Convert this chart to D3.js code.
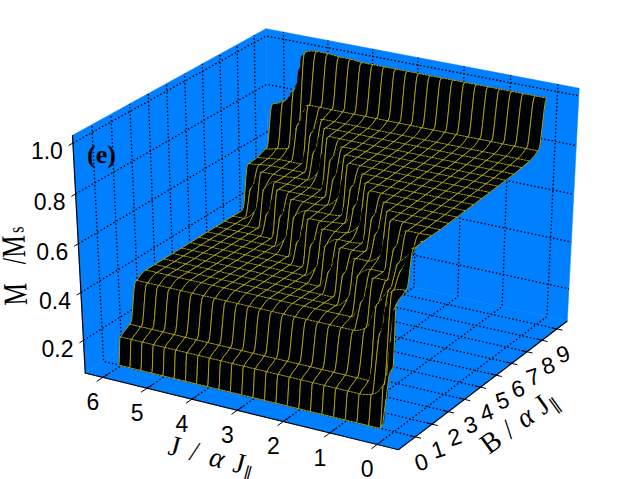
<!DOCTYPE html>
<html><head><meta charset="utf-8">
<style>html,body{margin:0;padding:0;background:#fff}svg{display:block}text{fill:#000}</style>
<script src="https://d3js.org/d3.v7.min.js"></script></head><body>
<svg id="c" width="641" height="479"></svg>
<script>
const jValues=[6,5.75,5.5,5.25,5,4.75,4.5,4.25,4,3.75,3.5,3.25,3,2.75,2.5,2.25,2,1.75,1.5,1.25,1,.75,.5,.25,0];
const bValues=[-.15,.05,.55,1.05,1.55,2.05,2.55,3.05,3.55,4.05,4.55,5.05,5.55,6.05,6.55,7.05,7.55,8.05,8.55,9.05];
const surfaceM=[
[.07,.18,.21,.37,.39,.39,.39,.39,.39,.39,.39,.39,.39,.39,.39,.39,.57,.575,.59,.76],
[.07,.18,.21,.37,.39,.39,.39,.39,.39,.39,.39,.39,.39,.39,.39,.50,.575,.58,.60,.78],
[.07,.18,.21,.37,.39,.39,.39,.39,.39,.39,.39,.39,.39,.39,.43,.575,.58,.585,.61,.84],
[.07,.18,.21,.37,.39,.39,.39,.39,.39,.39,.39,.39,.39,.39,.54,.575,.58,.585,.72,1],
[.07,.18,.21,.37,.39,.39,.39,.39,.39,.39,.39,.39,.39,.466,.575,.575,.58,.585,.81,1.01],
[.07,.18,.21,.37,.39,.39,.39,.39,.39,.39,.39,.39,.39,.575,.575,.58,.58,.727,.81,1.01],
[.07,.18,.21,.37,.39,.39,.39,.39,.39,.39,.39,.39,.50,.575,.575,.58,.68,.79,.81,1.005],
[.07,.18,.21,.37,.39,.39,.39,.39,.39,.39,.39,.43,.575,.575,.58,.62,.785,.79,.81,1.005],
[.07,.18,.21,.37,.39,.39,.39,.39,.39,.39,.39,.54,.575,.575,.58,.78,.785,.79,.81,1],
[.07,.18,.21,.37,.39,.39,.39,.39,.39,.39,.466,.57,.575,.58,.72,.78,.785,.79,.81,1],
[.07,.18,.21,.37,.39,.39,.39,.39,.39,.39,.57,.575,.58,.675,.777,.78,.785,.79,.81,1],
[.07,.18,.21,.37,.39,.39,.39,.39,.39,.50,.57,.575,.62,.775,.777,.78,.785,.79,.81,1],
[.07,.18,.21,.37,.39,.39,.39,.39,.43,.57,.575,.58,.772,.775,.777,.78,.785,.79,.81,1],
[.07,.18,.21,.37,.39,.39,.39,.39,.54,.57,.58,.71,.772,.775,.777,.78,.785,.79,.81,1],
[.07,.18,.21,.37,.39,.39,.39,.466,.57,.575,.665,.77,.772,.775,.777,.78,.785,.79,.81,1],
[.07,.18,.21,.37,.39,.39,.39,.57,.57,.61,.767,.77,.772,.775,.777,.78,.785,.79,.81,1],
[.07,.18,.21,.37,.39,.39,.50,.57,.575,.765,.767,.77,.772,.775,.777,.78,.785,.79,.81,1],
[.07,.18,.21,.37,.39,.43,.57,.575,.695,.765,.767,.77,.772,.775,.777,.78,.785,.79,.81,1],
[.07,.18,.21,.37,.39,.54,.57,.66,.762,.765,.767,.77,.772,.775,.777,.78,.785,.79,.81,1],
[.07,.18,.21,.37,.466,.57,.60,.76,.762,.765,.767,.77,.772,.775,.777,.78,.785,.79,.81,1],
[.07,.18,.21,.39,.57,.57,.757,.76,.762,.765,.767,.77,.772,.775,.777,.78,.785,.79,.81,1],
[.07,.18,.21,.50,.57,.68,.757,.76,.762,.765,.767,.77,.772,.775,.777,.78,.785,.79,.81,1],
[.07,.19,.42,.57,.65,.755,.757,.76,.762,.765,.767,.77,.772,.775,.777,.78,.785,.79,.81,1],
[.07,.24,.6,.66,.70,.755,.757,.76,.762,.765,.767,.77,.772,.775,.777,.78,.785,.79,.81,1],
[.33,.58,.61,.755,.757,.757,.757,.76,.762,.765,.767,.77,.772,.775,.777,.78,.785,.79,.81,1]
];
const jTicks=[0,1,2,3,4,5,6];
const bTicks=[0,1,2,3,4,5,6,7,8,9];
const zTicks=[.2,.4,.6,.8,1.0];
const zTickLabels=["0.2","0.4","0.6","0.8","1.0"];
const jLim=[6.4,-.45], bLim=[-1,9.7], zLim=[.06,1.03];

const paneColor="#0080ff", wireColor="#cfc51a";
const xS=d3.scaleLinear().domain(jLim).range([0,1]);
const yS=d3.scaleLinear().domain(bLim).range([0,1]);
const zS=d3.scaleLinear().domain(zLim).range([0,1]);
const el=30*Math.PI/180, az=-60*Math.PI/180, dist=10;
const n=[Math.cos(el)*Math.cos(az),Math.cos(el)*Math.sin(az),Math.sin(el)];
const u=[-Math.sin(az),Math.cos(az),0];
const v=[n[1]*u[2]-n[2]*u[1],n[2]*u[0]-n[0]*u[2],n[0]*u[1]-n[1]*u[0]];
const dot=(a,b)=>a[0]*b[0]+a[1]*b[1]+a[2]*b[2];
function project(J,B,Z){
  const p=[xS(J)-.5,yS(B)-.5,zS(Z)-.5];
  const w=dist-dot(n,p);
  return [330+3616*dot(u,p)/w,232-2715*dot(v,p)/w];
}
const svg=d3.select("#c");
const J0=jLim[1],J1=jLim[0],B0=bLim[0],B1=bLim[1],Z0=zLim[0],Z1=zLim[1];
const poly=pts=>"M"+pts.map(p=>p.map(d=>d.toFixed(2)).join(",")).join("L")+"Z";
const panes=[
 [[J1,B0,Z0],[J1,B1,Z0],[J1,B1,Z1],[J1,B0,Z1]],
 [[J1,B1,Z0],[J0,B1,Z0],[J0,B1,Z1],[J1,B1,Z1]],
 [[J1,B0,Z0],[J0,B0,Z0],[J0,B1,Z0],[J1,B1,Z0]]
];
svg.append("g").selectAll("path").data(panes).join("path")
 .attr("d",d=>poly(d.map(c=>project(...c)))).attr("fill",paneColor).attr("stroke",paneColor).attr("stroke-width",.5);
const gridLines=[
 ...jTicks.map(t=>[[t,B0,Z0],[t,B1,Z0],[t,B1,Z1]]),
 ...bTicks.map(t=>[[J0,t,Z0],[J1,t,Z0],[J1,t,Z1]]),
 ...zTicks.map(t=>[[J1,B0,t],[J1,B1,t],[J0,B1,t]])
];
const lineG=d3.line();
svg.append("g").selectAll("path").data(gridLines).join("path")
 .attr("d",d=>lineG(d.map(c=>project(...c)))).attr("fill","none").attr("stroke","#000")
 .attr("stroke-width",1.4).attr("stroke-dasharray","1.5 2.2");
const axes=[[[J1,B0,Z1],[J1,B0,Z0],[J0,B0,Z0],[J0,B1,Z0]]];
svg.append("g").selectAll("path").data(axes).join("path")
 .attr("d",d=>lineG(d.map(c=>project(...c)))).attr("fill","none").attr("stroke","#000").attr("stroke-width",1.2);
const tickLines=[
 ...jTicks.map(t=>[[t,B0+.33,Z0],[t,B0-.33,Z0]]),
 ...bTicks.map(t=>[[J0+.12,t,Z0],[J0-.12,t,Z0]]),
 ...zTicks.map(t=>[[J1,B0+.05,t],[J1,B0-.22,t]])
];
svg.append("g").selectAll("path").data(tickLines).join("path")
 .attr("d",d=>lineG(d.map(c=>project(...c)))).attr("fill","none").attr("stroke","#000").attr("stroke-width",1);
// curve drawing of the table (a smooth spline through its points, used only to shape the drawn path)
function spline(xs,ys,sharp){
  const N=xs.length,h=[],dl=[],m=[];
  for(let k=0;k<N-1;k++){h[k]=xs[k+1]-xs[k];dl[k]=(ys[k+1]-ys[k])/h[k];}
  m[0]=0;m[N-1]=0;
  for(let k=1;k<N-1;k++){m[k]=dl[k-1]*dl[k]<=0?0:2*dl[k-1]*dl[k]/(dl[k-1]+dl[k]);}
  return (k,t)=>{
    const jump=Math.abs(ys[k+1]-ys[k]);
    const tp=jump>.05?Math.max(0,Math.min(1,.5+(t-.5)*sharp)):t;
    const t2=tp*tp,t3=t2*tp;
    return (2*t3-3*t2+1)*ys[k]+(t3-2*t2+tp)*h[k]*m[k]+(-2*t3+3*t2)*ys[k+1]+(t3-t2)*h[k]*m[k+1];
  };
}
const SUB=4, BSUB=8;
const fineJ=[], fineM=[];
const rowSplines=bValues.map((b,k)=>spline(jValues,surfaceM.map(r=>r[k]),1.25));
for(let i=0;i<jValues.length-1;i++)for(let s=0;s<SUB;s++){
  const t=s/SUB;
  fineJ.push(jValues[i]+t*(jValues[i+1]-jValues[i]));
  fineM.push(bValues.map((b,k)=>rowSplines[k](i,t)));
}
fineJ.push(jValues[jValues.length-1]);fineM.push(surfaceM[surfaceM.length-1].slice());
const rowPts=fineJ.map((J,i)=>bValues.map((B,k)=>project(J,B,fineM[i][k])));
const colPts=fineJ.map((J,i)=>{
  const Ms=fineM[i],sp=spline(bValues,Ms,1.55),out=[];
  for(let k=0;k<bValues.length-1;k++){
    const st=Math.abs(Ms[k+1]-Ms[k])>.02?BSUB:1;
    for(let s=0;s<st;s++){const t=s/st;out.push(project(J,bValues[k]+t*(bValues[k+1]-bValues[k]),sp(k,t)));}
  }
  out.push(project(J,bValues[bValues.length-1],Ms[Ms.length-1]));
  return out;
});
const strips=d3.range(fineJ.length-1);
const sg=svg.append("g").selectAll("g").data(strips).join("g");
sg.append("path").attr("d",i=>poly(colPts[i].concat(colPts[i+1].slice().reverse())))
 .attr("fill","#000").attr("stroke","#000").attr("stroke-width",.6);
sg.selectAll(".col").data(i=>[i,i+1].filter(c=>c%SUB===0)).join("path").attr("class","col")
 .attr("d",c=>lineG(colPts[c])).attr("fill","none").attr("stroke",wireColor).attr("stroke-width",.8);
sg.selectAll(".row").data(i=>bValues.map((b,k)=>[rowPts[i][k],rowPts[i+1][k]])).join("path").attr("class","row")
 .attr("d",d=>lineG(d)).attr("fill","none").attr("stroke",wireColor).attr("stroke-width",.8);
const font="'Liberation Sans',Arial,sans-serif", serif="'Liberation Serif','Times New Roman',serif";
svg.append("g").selectAll("text").data(jTicks).join("text")
 .attr("transform",t=>{const p=project(t,B0,Z0);return `translate(${p[0]-10},${p[1]+24.5})`;})
 .attr("dy",".36em").attr("text-anchor","middle").attr("font-family",font).attr("font-size",23).text(d=>d);
svg.append("g").selectAll("text").data(bTicks).join("text")
 .attr("transform",t=>{const p=project(J0,t,Z0);return `translate(${p[0]+6},${p[1]+25}) rotate(-18)`;})
 .attr("dy",".36em").attr("text-anchor","middle").attr("font-family",font).attr("font-size",23).text(d=>d);
svg.append("g").selectAll("text").data(zTicks).join("text")
 .attr("transform",(t,i)=>{const p=project(J1,B0,t);return `translate(${p[0]-26},${p[1]+8})`;})
 .attr("dy",".36em").attr("text-anchor","middle").attr("font-family",font).attr("font-size",23).text((d,i)=>zTickLabels[i]);
function title(x,y,rot,sc,size,build){
  const t=svg.append("text").attr("transform",`translate(${x},${y}) rotate(${rot}) scale(${sc},1)`).attr("text-anchor","start")
   .attr("font-family",serif).attr("font-size",size);
  build(t);
}
title(27,305,-92,.74,34,t=>{
  t.append("tspan").text("M");
  t.append("tspan").attr("dx",25).text("/");
  t.append("tspan").attr("dx",0).text("M");
  t.append("tspan").attr("font-size",22).attr("dy",-1).attr("dx",3).text("s");
});
function alphaLabel(t,first,d1,d2,d3){
  t.append("tspan").text(first);
  t.append("tspan").attr("dx",d1).text("/");
  t.append("tspan").attr("dx",d2).attr("font-style","italic").text("α");
  t.append("tspan").attr("dx",d3).text("J");
  t.append("tspan").attr("font-size",18).attr("dy",4).attr("dx",1).text("∥");
}
title(167,454,15,.95,29,t=>alphaLabel(t,"J",12,13,11));
title(489,455,-36,.95,29,t=>alphaLabel(t,"B",9,10,9));
svg.append("text").attr("x",87).attr("y",163).attr("font-family",serif).attr("font-weight","bold").attr("font-size",26).text("(e)");
</script></body></html>
